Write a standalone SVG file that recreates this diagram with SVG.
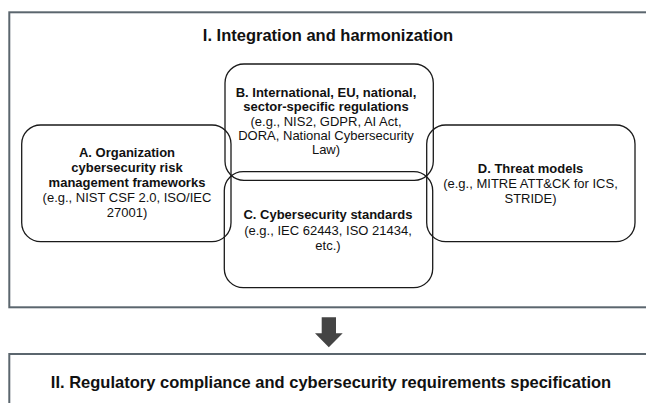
<svg xmlns="http://www.w3.org/2000/svg" width="646" height="403" viewBox="0 0 646 403">
<style>
.frame{fill:none;stroke:#5b666e;stroke-width:2}
.node{fill:none;stroke:#1a1a1a;stroke-width:1.3}
.title{font-family:"Liberation Sans",Arial,sans-serif;font-size:16.5px;font-weight:bold;fill:#111;text-anchor:middle}
.t{font-family:"Liberation Sans",Arial,sans-serif;font-size:13px;fill:#111;text-anchor:middle}
.b{font-weight:bold}
</style>
<rect x="0" y="0" width="646" height="403" fill="#fff"/>
<g id="stage1">
<rect class="frame" x="9.3" y="12.3" width="660" height="295"/>
<text class="title" x="328" y="41">I. Integration and harmonization</text>
</g>
<g id="nodeA">
<rect class="node" x="21.7" y="125" width="209.3" height="116.7" rx="19" ry="19"/>
<text class="t b" x="127" y="157">A. Organization</text>
<text class="t b" x="127" y="172">cybersecurity risk</text>
<text class="t b" x="127" y="187">management frameworks</text>
<text class="t" x="127" y="202">(e.g., NIST CSF 2.0, ISO/IEC</text>
<text class="t" x="127" y="217">27001)</text>
</g>
<g id="nodeB">
<rect class="node" x="225" y="64" width="208.3" height="116.3" rx="19" ry="19"/>
<text class="t b" x="326" y="97">B. International, EU, national,</text>
<text class="t b" x="326" y="111.3">sector-specific regulations</text>
<text class="t" x="326" y="125.6">(e.g., NIS2, GDPR, AI Act,</text>
<text class="t" x="326" y="139.9">DORA, National Cybersecurity</text>
<text class="t" x="326" y="154.2">Law)</text>
</g>
<g id="nodeC">
<rect class="node" x="224.3" y="171.7" width="208.4" height="116" rx="19" ry="19"/>
<text class="t b" x="328" y="219.3">C. Cybersecurity standards</text>
<text class="t" x="328" y="234.5">(e.g., IEC 62443, ISO 21434,</text>
<text class="t" x="328" y="249.5">etc.)</text>
</g>
<g id="nodeD">
<rect class="node" x="426.7" y="125" width="208.3" height="116.7" rx="19" ry="19"/>
<text class="t b" x="530.5" y="172.7">D. Threat models</text>
<text class="t" x="530.5" y="188">(e.g., MITRE ATT&amp;CK for ICS,</text>
<text class="t" x="530.5" y="203.3">STRIDE)</text>
</g>
<g id="connectors">
<polygon points="321.7,317.3 336,317.3 336,333.3 342.7,333.3 328.8,347.3 315,333.3 321.7,333.3" fill="#444"/>
</g>
<g id="stage2">
<rect class="frame" x="9.3" y="354" width="660" height="80"/>
<text class="title" x="331" y="388.3">II. Regulatory compliance and cybersecurity requirements specification</text>
</g>
</svg>
